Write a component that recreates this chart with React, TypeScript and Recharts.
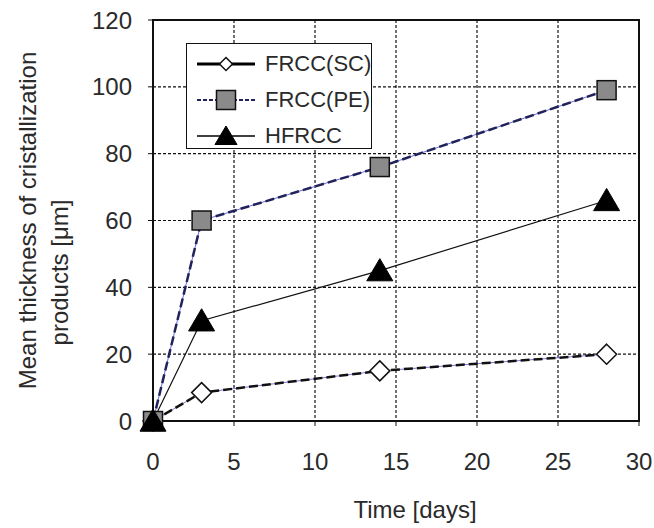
import {
  LineChart,
  Line,
  XAxis,
  YAxis,
  CartesianGrid,
  ReferenceArea,
  Legend,
} from "recharts";

// Values: sampling days and mean thickness [μm]
const days = [0, 3, 14, 28];
const frccSC = [0, 8.5, 15, 20];
const frccPE = [0, 60, 76, 99];
const hfrcc = [0, 30, 45, 66];

const xTicks = [0, 5, 10, 15, 20, 25, 30];
const yTicks = [0, 20, 40, 60, 80, 100, 120];

const FONT = "'Liberation Sans', Arial, sans-serif";
const INK = "#2a2a2a";

const chartData = days.map((day, i) => ({
  day,
  sc: frccSC[i],
  pe: frccPE[i],
  hf: hfrcc[i],
}));

const Diamond = ({ cx, cy, r = 10 }: any) => (
  <path
    d={`M${cx},${cy - r}L${cx + r},${cy}L${cx},${cy + r}L${cx - r},${cy}Z`}
    fill="#fff"
    stroke="#111"
    strokeWidth={1.5}
  />
);

const Square = ({ cx, cy, r = 9.5 }: any) => (
  <rect x={cx - r} y={cy - r} width={r * 2} height={r * 2} fill="#8a8a8a" stroke="#111" strokeWidth={1.5} />
);

const Triangle = ({ cx, cy, r = 12 }: any) => (
  <path
    d={`M${cx},${cy - r}L${cx + r + 1},${cy + r * 0.85}L${cx - r - 1},${cy + r * 0.85}Z`}
    fill="#000"
    stroke="#000"
  />
);

const dotOf = (Shape: any) => (props: any) =>
  props.cx == null ? null : <Shape key={`${props.dataKey}-${props.index}`} cx={props.cx} cy={props.cy} />;

const legendRows = [
  { name: "FRCC(SC)", stroke: "#000", width: 3, dash: undefined, Mark: Diamond, r: 6.5 },
  { name: "FRCC(PE)", stroke: "#22225a", width: 2, dash: "4 2", Mark: Square, r: 9.5 },
  { name: "HFRCC", stroke: "#000", width: 1.5, dash: undefined, Mark: Triangle, r: 10 },
];

const LegendBox = () => (
  <div
    style={{
      border: "1.5px solid #111",
      background: "#fff",
      width: 186,
      height: 106,
      boxSizing: "border-box",
      paddingTop: 2,
      fontFamily: FONT,
    }}
  >
    {legendRows.map((row) => (
      <div key={row.name} style={{ display: "flex", alignItems: "center", height: 36 }}>
        <svg width={80} height={30} style={{ flex: "none" }}>
          <line x1={10} x2={68} y1={15} y2={15} stroke={row.stroke} strokeWidth={row.width} strokeDasharray={row.dash} />
          <row.Mark cx={39} cy={15} r={row.r} />
        </svg>
        <span style={{ fontSize: 22, color: INK, marginLeft: -2 }}>{row.name}</span>
      </div>
    ))}
  </div>
);

const YLabel = ({ viewBox }: any) => {
  const cy = viewBox.y + viewBox.height / 2;
  return (
    <g fontFamily={FONT} fontSize={24} fill={INK}>
      <text x={27} y={cy} transform={`rotate(-90 27 ${cy})`} textAnchor="middle" dominantBaseline="central">
        Mean thickness of cristallization
      </text>
      <text
        x={59}
        y={cy + 52}
        transform={`rotate(-90 59 ${cy + 52})`}
        textAnchor="middle"
        dominantBaseline="central"
      >
        products [μm]
      </text>
    </g>
  );
};

const XLabel = ({ viewBox }: any) => (
  <text
    x={viewBox.x + viewBox.width / 2 + 19}
    y={518}
    textAnchor="middle"
    fontFamily={FONT}
    fontSize={24}
    fill={INK}
  >
    Time [days]
  </text>
);

export default function App() {
  return (
    <div style={{ position: "absolute", left: 0, top: 0, background: "#fff" }}>
      <LineChart width={654} height={528} data={chartData} margin={{ top: 20, right: 15, left: 0, bottom: 0 }}>
        <CartesianGrid stroke="#111" strokeDasharray="3 2" strokeWidth={1.2} />
        <XAxis
          type="number"
          dataKey="day"
          domain={[0, 30]}
          ticks={xTicks}
          height={107}
          tickSize={5}
          tickMargin={27}
          stroke="#111"
          tick={{ fontSize: 24, fill: INK, fontFamily: FONT }}
          label={{ content: <XLabel /> }}
        />
        <YAxis
          domain={[0, 120]}
          ticks={yTicks}
          width={153}
          tickSize={5}
          tickMargin={16}
          stroke="#111"
          tick={{ fontSize: 24, fill: INK, fontFamily: FONT }}
          label={{ content: <YLabel /> }}
        />
        <ReferenceArea x1={0} x2={30} y1={0} y2={120} fill="none" stroke="#111" strokeWidth={2} ifOverflow="visible" />
        <Line
          dataKey="sc"
          stroke="#7a7ad8"
          strokeWidth={1}
          dot={false}
          activeDot={false}
          legendType="none"
          isAnimationActive={false}
        />
        <Line
          dataKey="sc"
          name="FRCC(SC)"
          stroke="#111"
          strokeWidth={2.5}
          strokeDasharray="9 4"
          dot={dotOf(Diamond)}
          activeDot={false}
          isAnimationActive={false}
        />
        <Line
          dataKey="pe"
          stroke="#6a6ad8"
          strokeWidth={1}
          dot={false}
          activeDot={false}
          legendType="none"
          isAnimationActive={false}
        />
        <Line
          dataKey="pe"
          name="FRCC(PE)"
          stroke="#22225a"
          strokeWidth={2.5}
          strokeDasharray="9 4"
          dot={dotOf(Square)}
          activeDot={false}
          isAnimationActive={false}
        />
        <Line
          dataKey="hf"
          name="HFRCC"
          stroke="#111"
          strokeWidth={1.2}
          dot={dotOf(Triangle)}
          activeDot={false}
          isAnimationActive={false}
        />
        <Legend
          layout="vertical"
          align="center"
          verticalAlign="middle"
          wrapperStyle={{ left: 186, top: 43, width: 186, height: 106 }}
          content={() => <LegendBox />}
        />
      </LineChart>
    </div>
  );
}
